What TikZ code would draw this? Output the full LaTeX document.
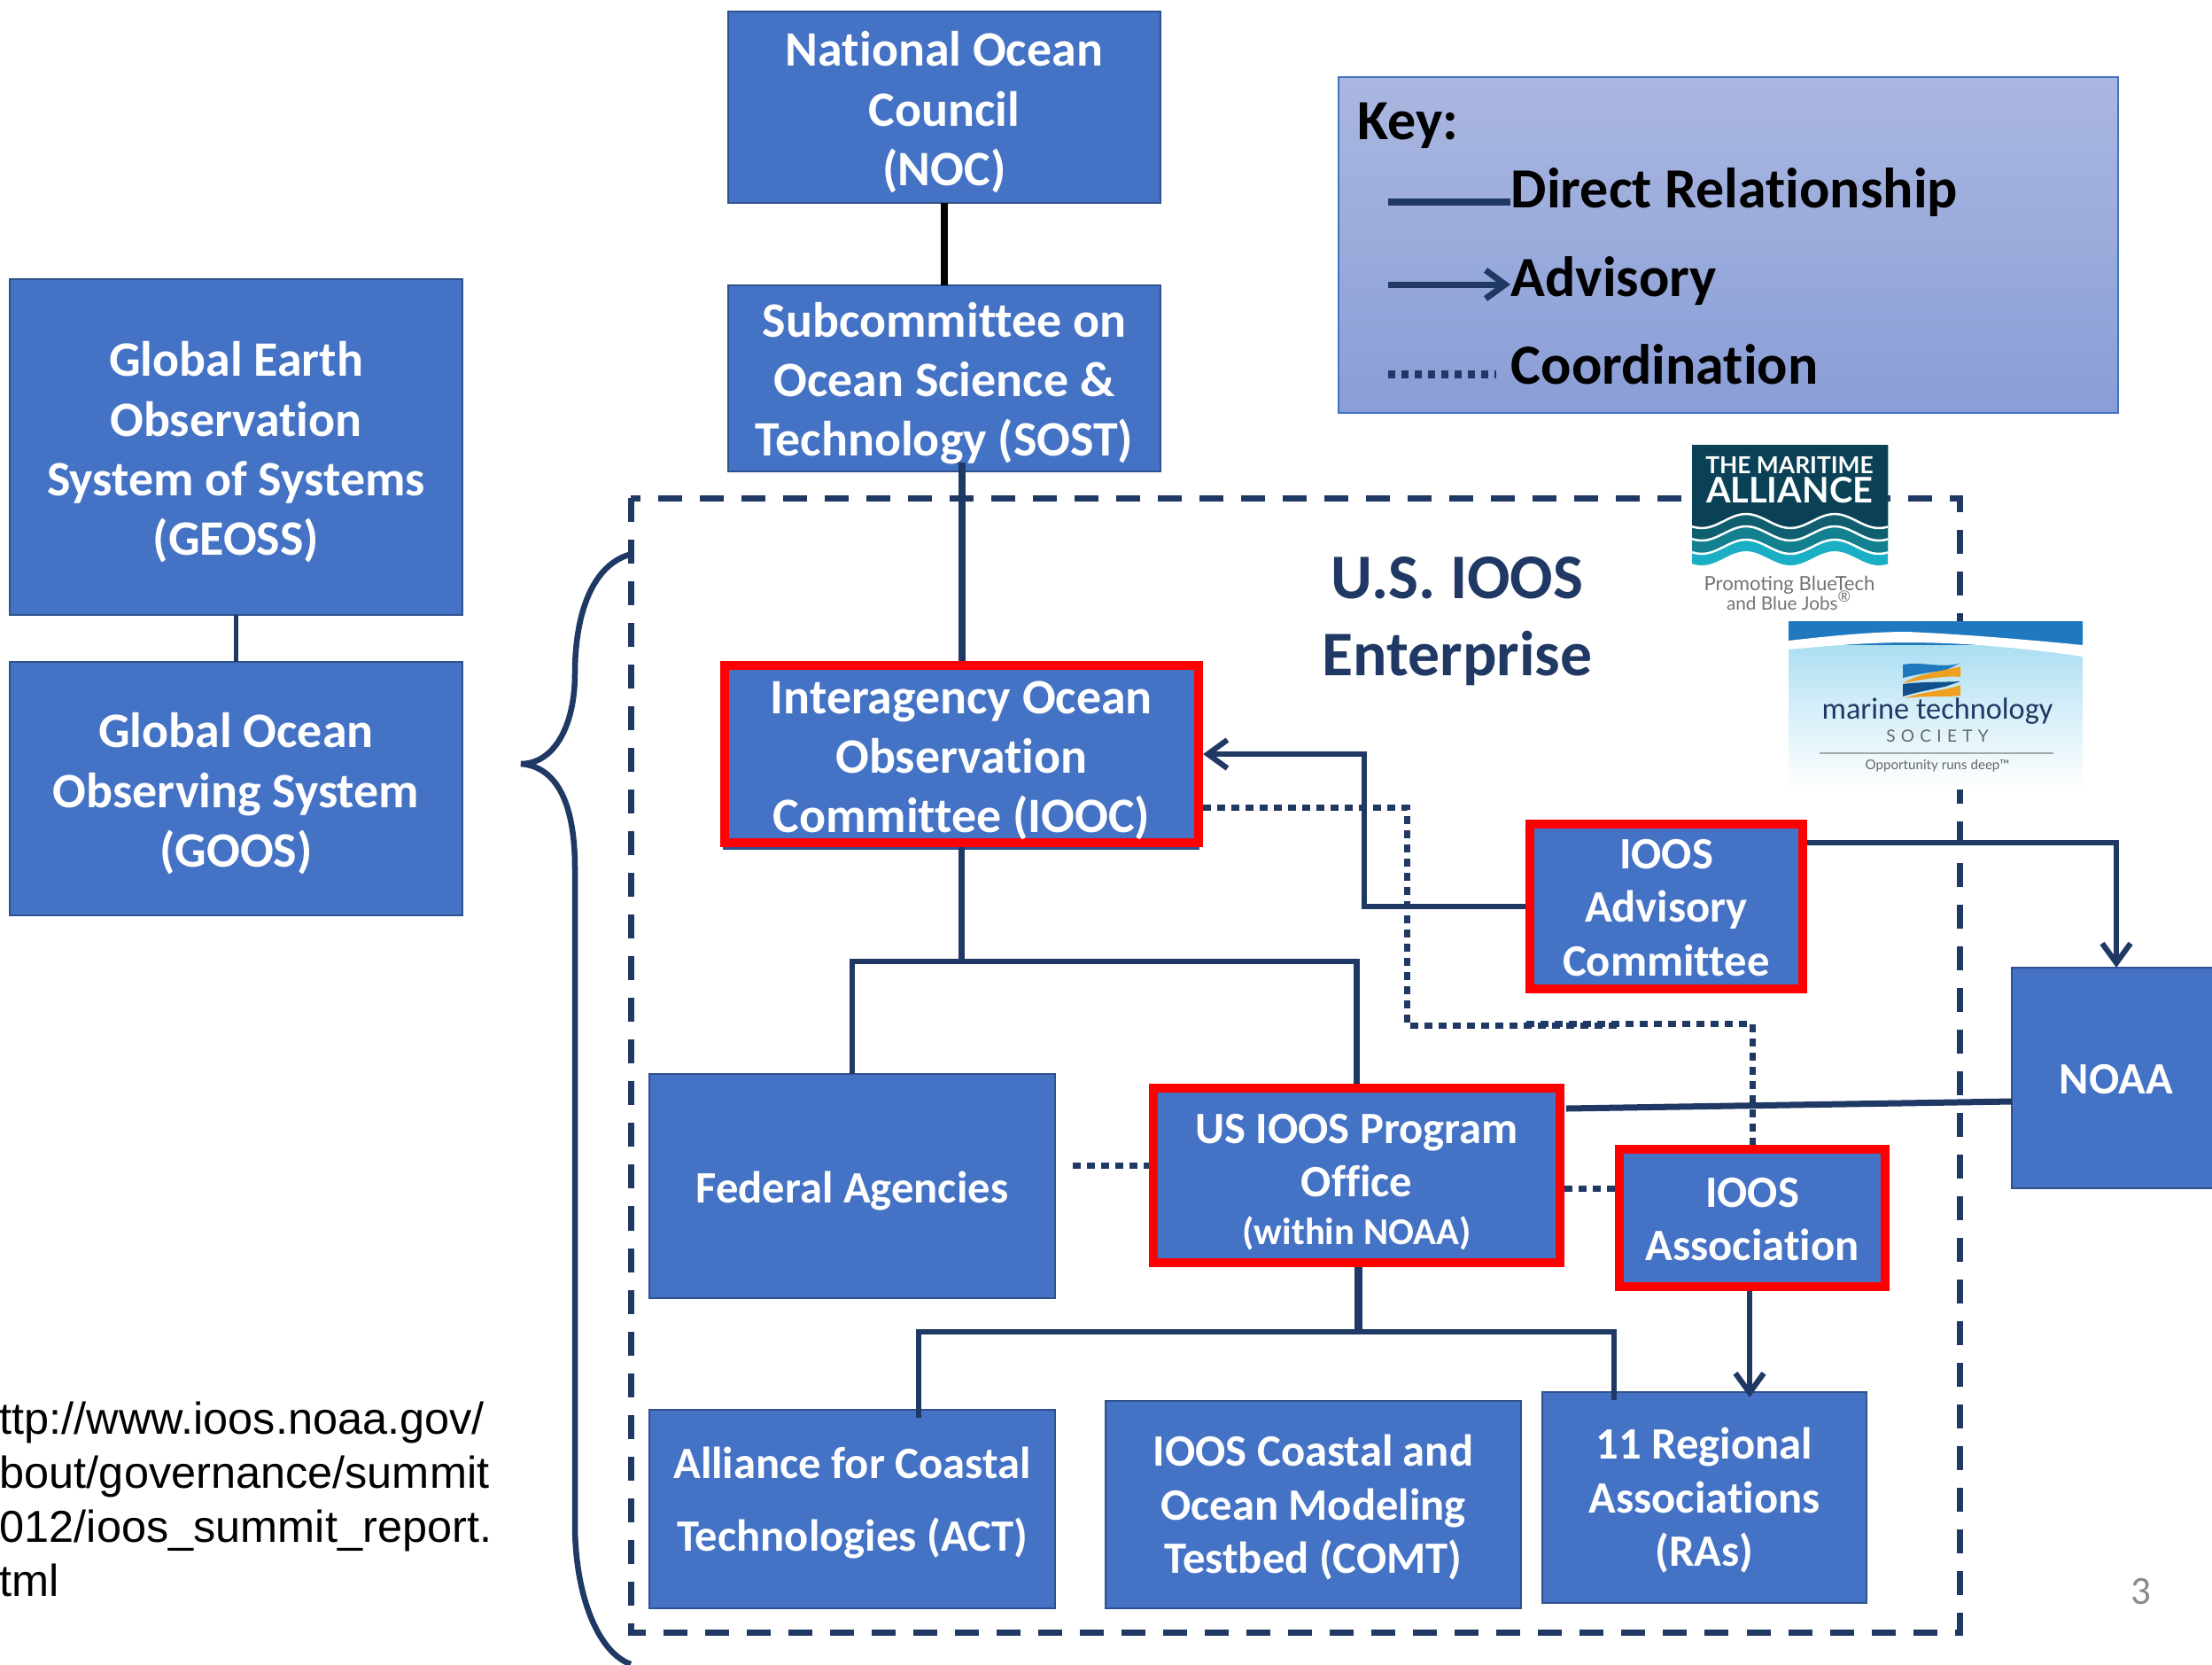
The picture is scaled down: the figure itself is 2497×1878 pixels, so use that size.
\documentclass[tikz,border=0pt]{standalone}
\usepackage{fontspec}
\setmainfont[Ligatures=NoCommon]{Carlito}
\newfontfamily\arialf{Liberation Sans}
\newfontfamily\logof{Lato}
\usetikzlibrary{arrows.meta}
\definecolor{boxblue}{HTML}{4472C4}
\definecolor{boxedge}{HTML}{2F528F}
\definecolor{navy}{HTML}{1F3864}
\definecolor{madark}{HTML}{0B4156}
\definecolor{mawa}{HTML}{0F5F70}
\definecolor{mawb}{HTML}{13808F}
\definecolor{mawc}{HTML}{1BAFC6}
\definecolor{msblue}{HTML}{2079BF}
\definecolor{mssky}{HTML}{9CD8F0}
\definecolor{msdeep}{HTML}{10508C}
\definecolor{msorange}{HTML}{F0A020}
\newcommand{\sz}[2]{\fontsize{#1pt}{#2pt}\selectfont}
\newcommand{\dn}[1]{\rule{0pt}{#1pt}}
\newcommand{\wavefill}[2]{\fill[#2] (1910,502) -- plot[domain=1910:2131,samples=50] (\x,{#1-8*cos(3.6*(\x-1971))}) -- (2131,502) -- cycle;}
\newcommand{\waveline}[1]{\draw[white,line width=0.025cm] plot[domain=1910:2131,samples=50] (\x,{#1-8*cos(3.6*(\x-1971))});}
\tikzset{
  x=0.01cm,y=-0.01cm,
  orgbox/.style={rectangle,fill=boxblue,draw=boxedge,line width=0.02cm,inner sep=0pt,outer sep=0pt,align=center,text=white,font=\bfseries\sz{15.9}{19.1}},
  redbox/.style={orgbox,draw=red,line width=0.10cm,outer sep=0.05cm},
  smalltext/.style={font=\bfseries\sz{14.4}{17.2}},
  link/.style={draw=navy,line width=0.062cm},
  dots/.style={draw=navy,line width=0.07cm,dash pattern=on 0.09cm off 0.07cm},
  advice/.style={link,-{Straight Barb[length=0.22cm,width=0.32cm]}},
  keytext/.style={anchor=base west,inner sep=0pt,text=black,font=\bfseries\sz{18.2}{21}},
}
\begin{document}
\begin{tikzpicture}
\useasboundingbox (0,0) rectangle (2497,1878);
\fill[white] (0,0) rectangle (2497,1878);
% enterprise frame and brace
\draw[navy,line width=0.07cm,dash pattern=on 0.27cm off 0.20cm] (712,562) rectangle (2212,1842);
\draw[navy,line width=0.065cm] (710,626) .. controls (665,640) and (649,700) .. (649,760)
  .. controls (649,820) and (625,862) .. (588,862)
  .. controls (625,865) and (649,900) .. (649,980) -- (649,1720)
  .. controls (649,1800) and (675,1865) .. (712,1878);
% boxes
\node[orgbox,minimum width=4.88cm,minimum height=2.16cm] (noc) at (1066,121) {\dn{14.4}National Ocean\\Council\\(NOC)};
\node[orgbox,minimum width=4.88cm,minimum height=2.10cm] (sost) at (1066,427) {\dn{14.4}Subcommittee on\\Ocean Science \&\\Technology (SOST)};
\node[orgbox,minimum width=5.11cm,minimum height=3.79cm] (geoss) at (266.5,504.5) {\dn{14.4}Global Earth\\Observation\\System of Systems\\(GEOSS)};
\node[orgbox,minimum width=5.11cm,minimum height=2.86cm] (goos) at (266.5,890) {\dn{14.4}Global Ocean\\Observing System\\(GOOS)};
\fill[boxedge] (816,950) rectangle (1354,959);
\node[redbox,minimum width=5.35cm,minimum height=2.00cm] (iooc) at (1085.5,851) {\dn{14.8}Interagency Ocean\\Observation\\Committee (IOOC)};
\node[redbox,smalltext,minimum width=3.08cm,minimum height=1.86cm] (adv) at (1881,1023) {\dn{10.2}IOOS\\Advisory\\Committee};
\node[orgbox,smalltext,minimum width=2.36cm,minimum height=2.49cm] (noaa) at (2389,1216.5) {\dn{10.2}NOAA};
\node[orgbox,smalltext,minimum width=4.58cm,minimum height=2.53cm] (fed) at (962,1338.5) {\dn{13.3}Federal Agencies};
\node[redbox,smalltext,minimum width=4.59cm,minimum height=1.97cm] (prog) at (1531.5,1326.5) {\dn{13.8}US IOOS Program\\Office\\[-1.8pt]{\sz{12.15}{17}(within NOAA)}};
\node[redbox,smalltext,minimum width=3.00cm,minimum height=1.55cm] (assoc) at (1978,1374.5) {\dn{10.2}IOOS\\Association};
\node[orgbox,smalltext,minimum width=4.58cm,minimum height=2.24cm] (act) at (962,1703) {\dn{10.8}Alliance for Coastal\\[6.2pt]Technologies (ACT)\rule[-7.1pt]{0pt}{0pt}};
\node[orgbox,smalltext,minimum width=4.69cm,minimum height=2.34cm] (comt) at (1482.5,1698) {\dn{12}IOOS Coastal and\\Ocean Modeling\\Testbed (COMT)};
\node[orgbox,smalltext,minimum width=3.66cm,minimum height=2.38cm] (ra) at (1924,1690) {\dn{12}11 Regional\\Associations\\(RAs)};
% connectors
\coordinate (junc) at (1085.5,1085);
\coordinate (sostin) at (1085.5,522);
\coordinate (dotA) at (1588,911);
\coordinate (dotB) at (1588,1157);
\coordinate (dotM) at (1825,1157);
\coordinate (dotN) at (1723,1155);
\coordinate (dotC) at (1978,1155);
\coordinate (dotI) at (1358,911);
\coordinate (elbow) at (1540,1023);
\coordinate (advout) at (2040,951);
\coordinate (progout) at (1768,1251);
\coordinate (noaain) at (2271,1243);
\coordinate (split) at (1533,1503);
\coordinate (actup) at (1037,1600);
\coordinate (raup) at (1822,1580);
\coordinate (fedout) at (1211,1315);
\coordinate (progin) at (1297,1315);
\coordinate (progr) at (1766,1341);
\coordinate (assocl) at (1823,1341);
\coordinate (assocb) at (1975,1457);
\coordinate (raarrow) at (1975,1577);
\coordinate (progb) at (1533,1430);
\draw[black,line width=0.08cm] (noc.south) -- (sost.north);
\draw[link,line width=0.08cm] (sostin) -- (iooc.north);
\draw[link,line width=0.045cm] (geoss.south) -- (goos.north);
\draw[link,line width=0.07cm] (iooc.south) -- (junc);
\draw[link] (fed.north) |- (junc) -| (prog.north);
\draw[advice] (adv.west |- elbow) -- (elbow) |- (iooc.east);
\draw[advice] (advout) -| (noaa.north);
\draw[dots] (dotI) -- (dotA) -- (dotB) -- (dotM);
\draw[dots] (dotN) -- (dotC) -- (assoc.north);
\draw[link,line width=0.07cm] (progout) -- (noaain);
\draw[dots] (fedout) -- (progin);
\draw[dots] (progr) -- (assocl);
\draw[link,line width=0.09cm] (progb) -- (split);
\draw[link] (actup) |- (split) -| (raup);
\draw[advice] (assocb) -- (raarrow);
% key
\node[rectangle,draw=boxblue,line width=0.02cm,top color={rgb,255:red,170;green,183;blue,224},bottom color={rgb,255:red,137;green,158;blue,215},minimum width=8.80cm,minimum height=3.79cm,inner sep=0pt,outer sep=0pt] (key) at (1951,276.5) {};
\node[keytext] (keyt) at (1532,157) {Key:};
\node[keytext] (k1) at (1705,234) {Direct Relationship};
\node[keytext] (k2) at (1705,334) {Advisory};
\node[keytext] (k3) at (1705,433) {Coordination};
\coordinate (k1a) at (1567,228);
\coordinate (k1b) at (1705,228);
\coordinate (k2a) at (1567,321);
\coordinate (k2b) at (1705,321);
\coordinate (k3a) at (1567,422);
\coordinate (k3b) at (1689,422);
\draw[link,line width=0.08cm] (k1a) -- (k1b);
\draw[advice,line width=0.07cm] (k2a) -- (k2b);
\draw[draw=navy,line width=0.09cm,dash pattern=on 0.075cm off 0.075cm] (k3a) -- (k3b);
% titles
\node[align=center,inner sep=0pt,text=navy,font=\bfseries\sz{20.4}{24.6}] (title) at (1645,701) {U.S. IOOS\\Enterprise};
\node[align=left,anchor=base west,inner sep=0pt,font=\arialf\sz{14.35}{17.3}] (url) at (-29,1801) {http://www.ioos.noaa.gov/\\about/governance/summit\\2012/ioos\_summit\_report.\\html};
\node[inner sep=0pt,text=black!46,font=\sz{12.8}{15}] (pg) at (2417,1796) {3};
% maritime alliance logo
\fill[white] (1910,502) rectangle (2131,693);
\wavefill{630}{mawc}
\wavefill{617}{mawb}
\wavefill{602}{mawa}
\wavefill{588}{madark}
\waveline{588}\waveline{602}\waveline{617}
\node[inner sep=0pt,anchor=base,text=white,font=\logof\bfseries\sz{7.5}{8}] (ma1) at (2020,534) {THE MARITIME};
\node[inner sep=0pt,anchor=base,text=white,font=\logof\bfseries\sz{11.3}{12}] (ma2) at (2020,567) {ALLIANCE};
\node[inner sep=0pt,anchor=base,text=black!55,font=\logof\sz{6.3}{7}] (ma3) at (2020,666) {Promoting BlueTech};
\node[inner sep=0pt,anchor=base,text=black!55,font=\logof\sz{5.9}{7}] (ma4) at (2020,688) {and Blue Jobs\textsuperscript{\tiny ®}};
% marine technology society logo
\shade[top color=mssky,bottom color=white,middle color=mssky!45!white] (2019,701) rectangle (2351,890);
\fill[msblue] (2019,701) rectangle (2351,728);
\fill[white] (2019,723) .. controls (2080,716) and (2120,713) .. (2153,713) .. controls (2220,716) and (2290,722) .. (2351,728) -- (2351,741) .. controls (2290,732) and (2220,725) .. (2153,725) .. controls (2110,725) and (2060,729) .. (2019,733) -- cycle;
\fill[msblue] (2148,750) .. controls (2170,746) and (2195,755) .. (2213,748) -- (2195,757) .. controls (2180,758) and (2160,762) .. (2148,765) -- cycle;
\fill[msorange] (2213,752) -- (2213,764) .. controls (2195,762) and (2170,767) .. (2148,771) .. controls (2165,760) and (2195,757) .. (2213,752) -- cycle;
\fill[msdeep] (2148,772) .. controls (2170,769) and (2195,770) .. (2213,769) -- (2195,775) .. controls (2180,778) and (2160,782) .. (2148,786) -- cycle;
\fill[msorange] (2213,773) -- (2213,785) .. controls (2195,787) and (2170,785) .. (2150,788) .. controls (2170,780) and (2195,780) .. (2213,773) -- cycle;
\node[inner sep=0pt,anchor=base,text=navy,font=\sz{9.75}{11}] (ms1) at (2187,811) {marine technology};
\node[inner sep=0pt,anchor=base,text=black!60,font=\logof\sz{5.4}{6}] (ms2) at (2187,837) {S\,\,O\,\,C\,\,I\,\,E\,\,T\,\,Y};
\coordinate (msa) at (2054,850);
\coordinate (msb) at (2318,850);
\draw[black!35,line width=0.02cm] (msa) -- (msb);
\node[inner sep=0pt,anchor=base,text=black!60,font=\logof\sz{4.3}{5}] (ms3) at (2187,868) {Opportunity runs deep™};
\end{tikzpicture}
\end{document}
